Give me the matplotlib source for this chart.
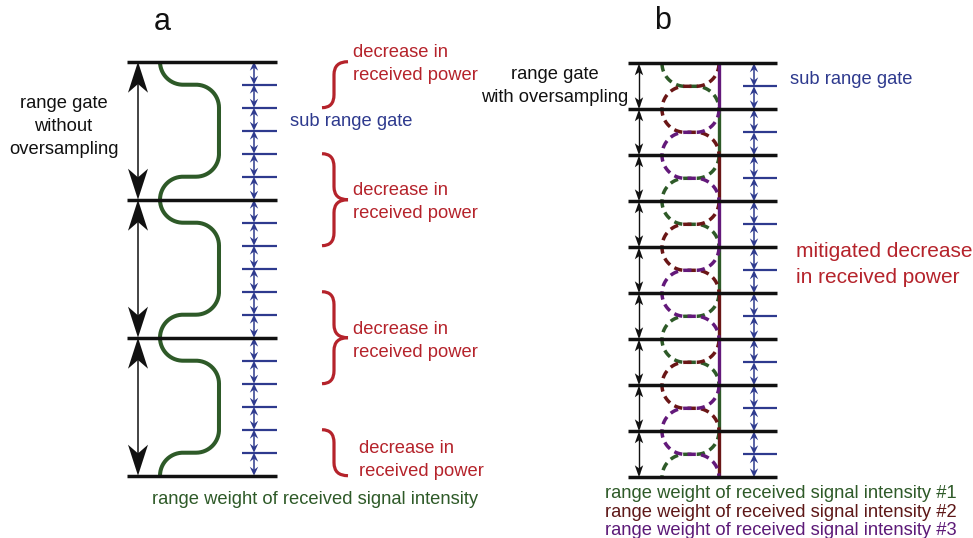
import numpy as np
import matplotlib
matplotlib.use('Agg')
import matplotlib.pyplot as plt
from matplotlib.patches import Polygon, PathPatch
from matplotlib.path import Path

plt.rcParams['font.family'] = ['Liberation Sans', 'DejaVu Sans']

# ---------------- data (structure of the diagram) ----------------
panel_labels = ['a', 'b']
n_gates_a = 3            # range gates in panel a
sub_per_gate_a = 6       # sub range gates per range gate (panel a)
n_gates_b = 9            # gate lines spacing in panel b (oversampled)
sub_per_gate_b = 2       # sub range gates per oversampled step (panel b)
n_signals_b = 3          # interleaved received signals in panel b
signal_first_dip = [0, 1, 2]
label_a_left = ['range gate', 'without', 'oversampling']
label_b_left = ['range gate', 'with oversampling']
decrease_label = ['decrease in', 'received power']
mitigated_label = ['mitigated decrease', 'in received power']
sub_label = 'sub range gate'
weight_label_a = 'range weight of received signal intensity'
weight_labels_b = ['range weight of received signal intensity #1',
                   'range weight of received signal intensity #2',
                   'range weight of received signal intensity #3']

# ---------------- style ----------------
BLACK = '#111111'
GREEN = '#2e5a28'
DRED = '#6a1616'
PURPLE = '#63197a'
BLUE = '#2e3a8e'
RED = '#b5232b'
sig_colors = [GREEN, DRED, PURPLE]
sig_text_colors = ['#2e5a28', '#5e1818', '#5c1a78']
FS = 13.2

W_PX, H_PX = 973, 538
fig = plt.figure(figsize=(W_PX / 100, H_PX / 100), dpi=100)
ax = fig.add_axes([0, 0, 1, 1])
ax.set_xlim(0, W_PX)
ax.set_ylim(H_PX, 0)
ax.axis('off')


def head(x, ytip, d, L, w, notch, color, z=5):
    pts = [(x, ytip), (x + w, ytip + d * L), (x, ytip + d * notch * L), (x - w, ytip + d * L)]
    ax.add_patch(Polygon(pts, closed=True, facecolor=color, edgecolor='none', zorder=z))


def dbl_arrow(x, y1, y2, L, w, notch, color, lw, z=5):
    ax.plot([x, x], [y1 + 0.3 * L, y2 - 0.3 * L], color=color, lw=lw, zorder=z, solid_capstyle='butt')
    head(x, y1, +1, L, w, notch, color, z)
    head(x, y2, -1, L, w, notch, color, z)


def dip_half(xl, xr, y0, h, d, n=30):
    r = h / 2.0
    th = np.linspace(0, np.pi / 2, n)
    x1 = xl + r - r * np.cos(th)
    y1 = y0 + d * (r * np.sin(th))
    x2 = xr - r + r * np.sin(th)
    y2 = y0 + d * (2 * r - r * np.cos(th))
    return np.concatenate([x1, x2]), np.concatenate([y1, y2])


def full_dip(xl, xr, y0, h):
    xu, yu = dip_half(xl, xr, y0, h, -1)
    xd, yd = dip_half(xl, xr, y0, h, +1)
    return np.concatenate([xu[::-1], xd]), np.concatenate([yu[::-1], yd])


def brace_half(xe, xt, ye, yt, xm, k=13, color=RED, lw=2.3):
    d = np.sign(yt - ye)
    verts = [(xe, ye), (xm, ye), (xm, ye + d * k), (xm, yt - d * k), (xm, yt), (xt, yt)]
    codes = [Path.MOVETO, Path.CURVE3, Path.CURVE3, Path.LINETO, Path.CURVE3, Path.CURVE3]
    ax.add_patch(PathPatch(Path(verts, codes), facecolor='none', edgecolor=color, lw=lw,
                           capstyle='butt', zorder=4))


# ================= panel a =================
ya0, gate_a = 61.7, 138.0
xa_line = (127, 277)
xa_arrow = 138
xa_wl, xa_wr = 160, 219
xa_blue = 254
xa_tick = (242, 277)
h_dip = 46.0
gates_a = [ya0 + gate_a * k for k in range(n_gates_a + 1)]

for y in gates_a:
    ax.plot(xa_line, [y, y], color=BLACK, lw=2.5, zorder=6, solid_capstyle='butt')
for k in range(n_gates_a):
    dbl_arrow(xa_arrow, gates_a[k], gates_a[k + 1], 31, 10, 0.72, BLACK, 1.1)

# weight curve (green)
xs, ys = [], []
for k, y in enumerate(gates_a):
    if k > 0:
        xu, yu = dip_half(xa_wl, xa_wr, y, h_dip, -1)
        xs.append(xu[::-1]); ys.append(yu[::-1])
    if k < n_gates_a:
        xd, yd = dip_half(xa_wl, xa_wr, y, h_dip, +1)
        xs.append(xd); ys.append(yd)
ax.plot(np.concatenate(xs), np.concatenate(ys), color=GREEN, lw=2.9, zorder=3,
        solid_capstyle='butt', solid_joinstyle='round')

# sub range gates (blue)
sub_a = gate_a / sub_per_gate_a
n_sub_a = n_gates_a * sub_per_gate_a
for i in range(n_sub_a):
    y1 = ya0 + i * sub_a
    dbl_arrow(xa_blue, y1, y1 + sub_a, 9, 4.2, 0.65, BLUE, 1.1, z=4)
    if i % sub_per_gate_a != 0:
        ax.plot(xa_tick, [y1, y1], color=BLUE, lw=1.6, zorder=4, solid_capstyle='butt')

# braces (decrease in received power)
bx_end, bx_tip, bx_mid = 322, 348, 334
for k, y in enumerate(gates_a):
    if k > 0:
        brace_half(bx_end, bx_tip, y - h_dip, y, bx_mid)
    if k < n_gates_a:
        brace_half(bx_end, bx_tip, y + h_dip, y, bx_mid)

red_x = [353, 353, 353, 359]
red_base = [56.7, 195.0, 334.0, 453.3]
for xx, yb in zip(red_x, red_base):
    ax.text(xx, yb, decrease_label[0], color=RED, fontsize=FS, va='baseline', ha='left')
    ax.text(xx, yb + 23, decrease_label[1], color=RED, fontsize=FS, va='baseline', ha='left')

ax.text(290, 126.5, sub_label, color=BLUE, fontsize=FS, va='baseline', ha='left')
for i, t in enumerate(label_a_left):
    ax.text(63.5, 108.3 + 23 * i, t, color=BLACK, fontsize=FS, va='baseline', ha='center')
ax.text(152, 503.5, weight_label_a, color=GREEN, fontsize=FS, va='baseline', ha='left')
ax.text(162, 30, panel_labels[0], color=BLACK, fontsize=22, va='baseline', ha='center')

# ================= panel b =================
yb0, gate_b = 63.3, 46.0
xb_line = (628, 777)
xb_arrow = 639
xb_wl, xb_wr = 662, 719
xb_blue = 754
xb_tick = (743, 777)
gates_b = [yb0 + gate_b * k for k in range(n_gates_b + 1)]
yb_end = gates_b[-1]

for y in gates_b:
    ax.plot(xb_line, [y, y], color=BLACK, lw=2.5, zorder=6, solid_capstyle='butt')
for k in range(n_gates_b):
    dbl_arrow(xb_arrow, gates_b[k], gates_b[k + 1], 12, 4.2, 0.75, BLACK, 1.0)

# interleaved signal weights
for s in range(n_signals_b):
    col = sig_colors[s]
    dips = [j for j in range(-3, n_gates_b + 4) if (j - signal_first_dip[s]) % n_signals_b == 0]
    for j in dips:
        yc = yb0 + gate_b * j
        xd, yd = full_dip(xb_wl, xb_wr, yc, h_dip)
        m = (yd >= yb0 - 0.01) & (yd <= yb_end + 0.01)
        if m.sum() > 1:
            ax.plot(xd[m], yd[m], color=col, lw=2.5, ls=(0, (2.4, 1.5)), zorder=3,
                    dash_capstyle='butt')
        # solid vertical part until next dip
        ya_ = max(yc + h_dip, yb0)
        yz_ = min(yc + gate_b * n_signals_b - h_dip, yb_end)
        if yz_ > ya_:
            ax.plot([xb_wr, xb_wr], [ya_, yz_], color=col, lw=2.4, zorder=3, solid_capstyle='butt')

sub_b = gate_b / sub_per_gate_b
n_sub_b = n_gates_b * sub_per_gate_b
for i in range(n_sub_b):
    y1 = yb0 + i * sub_b
    dbl_arrow(xb_blue, y1, y1 + sub_b, 9, 4.2, 0.65, BLUE, 1.1, z=4)
    if i % sub_per_gate_b != 0:
        ax.plot(xb_tick, [y1, y1], color=BLUE, lw=1.6, zorder=4, solid_capstyle='butt')

ax.text(663, 29, panel_labels[1], color=BLACK, fontsize=22, va='baseline', ha='center')
ax.text(555, 79, label_b_left[0], color=BLACK, fontsize=FS, va='baseline', ha='center')
ax.text(555, 101.7, label_b_left[1], color=BLACK, fontsize=FS, va='baseline', ha='center')
ax.text(790, 84.5, sub_label, color=BLUE, fontsize=FS, va='baseline', ha='left')
ax.text(796, 257, mitigated_label[0], color=RED, fontsize=15, va='baseline', ha='left')
ax.text(796, 283, mitigated_label[1], color=RED, fontsize=15, va='baseline', ha='left')
for i, t in enumerate(weight_labels_b):
    ax.text(605, 498.3 + 18.3 * i, t, color=sig_text_colors[i], fontsize=FS, va='baseline', ha='left')

fig.savefig('out.png', dpi=100)
